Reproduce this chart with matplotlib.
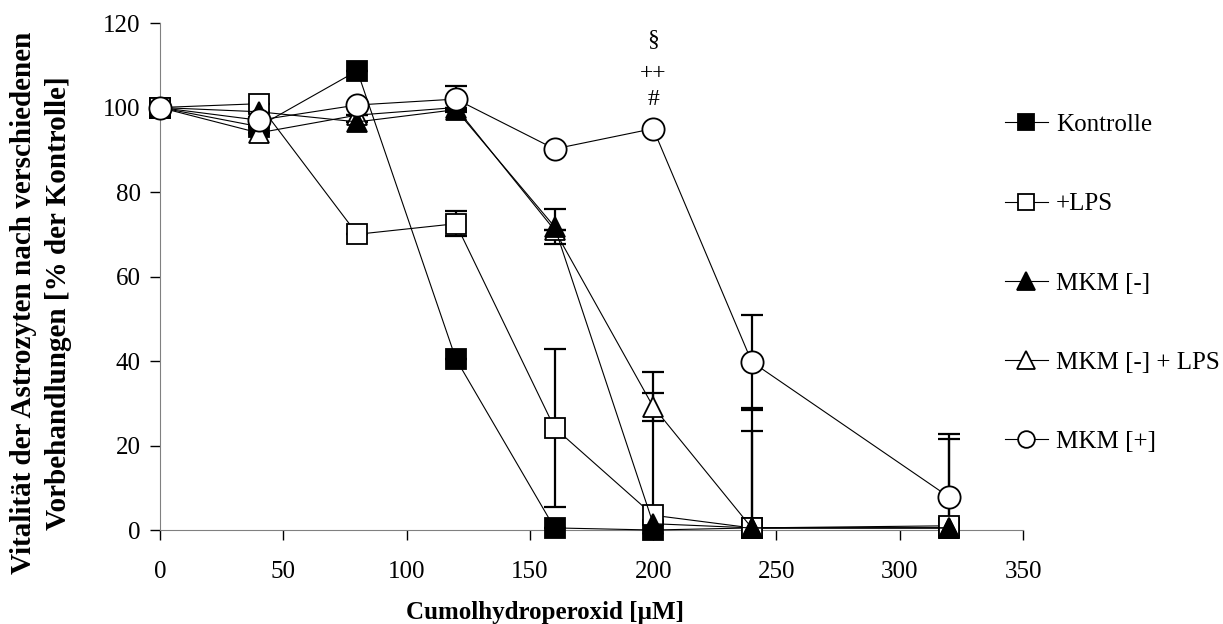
import matplotlib
matplotlib.use("Agg")
import matplotlib.pyplot as plt
from matplotlib.lines import Line2D

plt.rcParams["font.family"] = ["Liberation Serif", "DejaVu Serif"]

# Cumolhydroperoxid concentration [uM]
dose = [0, 40, 80, 120, 160, 200, 240, 320]

kontrolle = [100, 95.5, 108.7, 40.5, 0.5, 0, 0.5, 0.5]
kontrolle_err = [0, 0, 0, 0, 0, 0, 28, 0]

lps = [100, 100.9, 70, 72.5, 24.2, 3.5, 0.5, 1]
lps_err = [0, 0, 0, 3, 18.7, 34, 23, 20.5]

mkm_minus = [100, 99, 96.6, 99.5, 71.8, 1.5, 0.5, 0.5]
mkm_minus_err = [0, 0, 0, 0, 4.2, 0, 0, 0]

mkm_minus_lps = [100, 94, 98.2, 100, 71, 29.2, 0.5, 0.5]
mkm_minus_lps_err = [0, 0, 0, 0, 0, 3.3, 0, 0]

mkm_plus = [100, 97, 100.6, 102, 90.2, 95, 39.8, 7.8]
mkm_plus_err = [0, 0, 0, 3, 0, 0, 11, 14.9]

labels = ["Kontrolle", "+LPS", "MKM [-]", "MKM [-] + LPS", "MKM [+]"]
signif = ["#", "++", "§"]
signif_y = [102, 108, 116]

fig = plt.figure(figsize=(12.23, 6.24), dpi=100)
ax = fig.add_axes([0.1308, 0.1506, 0.7057, 0.8125])

# (values, errors, marker, face colour, size) -- drawing order
series = [
    (kontrolle, kontrolle_err, "s", "black", 14),
    (lps, lps_err, "s", "white", 14),
    (mkm_minus_lps, mkm_minus_lps_err, "^", "white", 15),
    (mkm_minus, mkm_minus_err, "^", "black", 15),
    (mkm_plus, mkm_plus_err, "o", "white", 16),
]

z = 3
for vals, err, mk, fc, ms in series:
    ax.errorbar(dose, vals, yerr=err, fmt="none", ecolor="black",
                elinewidth=1.6, capsize=8, capthick=1.6, zorder=2)
    ax.plot(dose, vals, color="black", lw=0.8, marker=mk, ms=ms,
            mfc=fc, mec="black", mew=1.3, clip_on=False, zorder=z)
    z += 1

for s, yy in zip(signif, signif_y):
    ax.text(200, yy, s, ha="center", va="center", fontsize=17)

ax.set_xlim(0, 350)
ax.set_ylim(0, 120)
ax.set_xticks(range(0, 351, 50))
ax.set_yticks(range(0, 121, 20))
ax.spines["top"].set_visible(False)
ax.spines["right"].set_visible(False)
ax.spines["left"].set_color("#808080")
ax.spines["bottom"].set_color("#808080")
ax.tick_params(direction="out", length=7, width=1, color="black",
               labelsize=18)
ax.tick_params(axis="x", pad=15)
ax.tick_params(axis="y", pad=7)

ax.set_xlabel("Cumolhydroperoxid [µM]", fontsize=18, fontweight="bold",
              labelpad=13, x=0.446)
ax.set_ylabel("Vitalität der Astrozyten nach verschiedenen\n"
              "Vorbehandlungen [% der Kontrolle]", fontsize=21,
              fontweight="bold", labelpad=22, linespacing=1.4, y=0.448)

handles = [
    Line2D([], [], color="black", lw=0.8, marker="s", ms=12, mfc="black", mec="black", mew=1.3),
    Line2D([], [], color="black", lw=0.8, marker="s", ms=12, mfc="white", mec="black", mew=1.3),
    Line2D([], [], color="black", lw=0.8, marker="^", ms=13, mfc="black", mec="black", mew=1.3),
    Line2D([], [], color="black", lw=0.8, marker="^", ms=13, mfc="white", mec="black", mew=1.3),
    Line2D([], [], color="black", lw=0.8, marker="o", ms=12, mfc="white", mec="black", mew=1.3),
]
fig.legend(handles, labels, loc="center left", bbox_to_anchor=(0.803, 0.5457),
           frameon=False, fontsize=18, handlelength=1.75, handletextpad=0.3,
           labelspacing=2.27)

fig.savefig("out.png", dpi=100)
